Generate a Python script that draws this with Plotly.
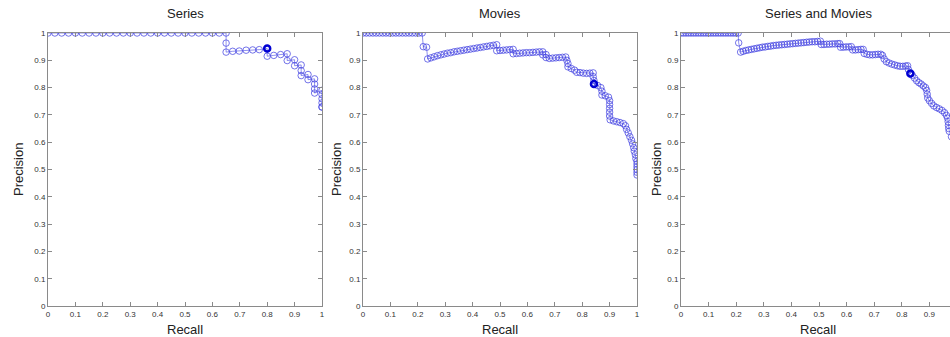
import plotly.graph_objects as go

# ---- data ----
titles = ["Series", "Movies", "Series and Movies"]
tick_vals = [0, 0.1, 0.2, 0.3, 0.4, 0.5, 0.6, 0.7, 0.8, 0.9, 1]
tick_text = ["0", "0.1", "0.2", "0.3", "0.4", "0.5", "0.6", "0.7", "0.8", "0.9", "1"]

series_recall = [0, 0.025, 0.05, 0.075, 0.1, 0.125, 0.15, 0.175, 0.2, 0.225, 0.25, 0.275, 0.3, 0.325,
                 0.35, 0.375, 0.4, 0.425, 0.45, 0.475, 0.5, 0.525, 0.55, 0.575, 0.6, 0.625, 0.65,
                 0.65, 0.65, 0.674, 0.698, 0.723, 0.747, 0.771, 0.8, 0.8, 0.824, 0.849, 0.873, 0.873,
                 0.9, 0.9, 0.924, 0.924, 0.924, 0.949, 0.949, 0.973, 0.973, 0.973, 0.973,
                 1.0, 1.0, 1.0, 1.0, 1.0, 1.0]
series_precision = [1, 1, 1, 1, 1, 1, 1, 1, 1, 1, 1, 1, 1, 1, 1, 1, 1, 1, 1, 1, 1, 1, 1, 1, 1, 1, 1,
                    0.963, 0.93, 0.933, 0.934, 0.937, 0.938, 0.939, 0.943, 0.915, 0.918, 0.921, 0.924, 0.899,
                    0.902, 0.88, 0.883, 0.862, 0.844, 0.848, 0.829, 0.832, 0.813, 0.795, 0.78,
                    0.79, 0.774, 0.759, 0.744, 0.729, 0.729]
series_op = [0.8, 0.943]

movies_recall = [0, 0.012, 0.024, 0.036, 0.048, 0.060, 0.072, 0.084, 0.096, 0.108, 0.120, 0.132, 0.144,
                 0.156, 0.168, 0.180, 0.192, 0.204, 0.216,
                 0.220, 0.232, 0.236,
                 0.248, 0.26, 0.272, 0.284, 0.296, 0.308, 0.32, 0.332, 0.344, 0.356, 0.368, 0.38, 0.392,
                 0.404, 0.416, 0.428, 0.44, 0.452, 0.464, 0.476, 0.488,
                 0.488, 0.5, 0.512, 0.524, 0.536, 0.548,
                 0.548, 0.56, 0.572, 0.584, 0.596, 0.608, 0.62, 0.632, 0.644, 0.656,
                 0.656, 0.668, 0.668, 0.68, 0.692, 0.704, 0.716, 0.728, 0.74,
                 0.744, 0.748, 0.748, 0.76, 0.772, 0.78, 0.792, 0.804, 0.816, 0.828, 0.84,
                 0.84, 0.843, 0.843,
                 0.856, 0.868, 0.872, 0.872, 0.884, 0.896, 0.9, 0.9, 0.9, 0.9, 0.9, 0.902,
                 0.914, 0.926, 0.938, 0.95, 0.958, 0.962, 0.968, 0.974, 0.98, 0.984, 0.988, 0.99,
                 0.994, 0.996, 1.0, 1.0, 1.0, 1.0, 1.0, 1.0]
movies_precision = [1, 1, 1, 1, 1, 1, 1, 1, 1, 1, 1, 1, 1, 1, 1, 1, 1, 1, 1,
                    0.950, 0.948, 0.905,
                    0.909, 0.913, 0.917, 0.92, 0.923, 0.926, 0.928, 0.931, 0.933, 0.935, 0.937, 0.939, 0.941,
                    0.943, 0.945, 0.947, 0.949, 0.951, 0.953, 0.955, 0.957,
                    0.935, 0.936, 0.937, 0.938, 0.939, 0.94,
                    0.924, 0.925, 0.926, 0.927, 0.928, 0.928, 0.929, 0.93, 0.931, 0.931,
                    0.92, 0.921, 0.91, 0.907, 0.908, 0.909, 0.91, 0.911, 0.912,
                    0.9, 0.888, 0.876, 0.87, 0.864, 0.856, 0.855, 0.853, 0.852, 0.853, 0.854,
                    0.84, 0.826, 0.813,
                    0.808, 0.8, 0.787, 0.773, 0.77, 0.765, 0.752, 0.738, 0.724, 0.71, 0.696, 0.682,
                    0.678, 0.675, 0.672, 0.668, 0.66, 0.647, 0.634, 0.62, 0.607, 0.594, 0.58, 0.567,
                    0.554, 0.54, 0.53, 0.52, 0.51, 0.5, 0.49, 0.48]
movies_op = [0.843, 0.813]

both_recall = [0, 0.009, 0.018, 0.027, 0.036, 0.045, 0.054, 0.063, 0.072, 0.081, 0.09, 0.099, 0.108,
               0.117, 0.126, 0.135, 0.144, 0.153, 0.162, 0.171, 0.18, 0.189, 0.198, 0.207,
               0.209, 0.216,
               0.225, 0.235, 0.245, 0.255, 0.265, 0.275, 0.285, 0.295, 0.305, 0.315, 0.325, 0.335, 0.345,
               0.355, 0.365, 0.375, 0.385, 0.395, 0.405, 0.415, 0.425, 0.435, 0.445, 0.455, 0.465,
               0.475, 0.485, 0.495, 0.505,
               0.508, 0.518, 0.528, 0.538, 0.548, 0.558, 0.568, 0.575,
               0.578, 0.588, 0.598, 0.608, 0.617,
               0.622, 0.632, 0.642, 0.652, 0.66,
               0.664, 0.674, 0.684, 0.694, 0.704, 0.714, 0.724, 0.73,
               0.736, 0.744, 0.754, 0.764, 0.774, 0.784, 0.794, 0.804, 0.814, 0.821,
               0.824, 0.831, 0.838, 0.846, 0.854, 0.862, 0.87, 0.878, 0.886, 0.89, 0.892, 0.894,
               0.9, 0.908, 0.916, 0.926, 0.936, 0.946, 0.955, 0.962, 0.966, 0.968, 0.969, 0.97,
               0.972, 0.98, 0.99, 1.0]
both_precision = [1, 1, 1, 1, 1, 1, 1, 1, 1, 1, 1, 1, 1, 1, 1, 1, 1, 1, 1, 1, 1, 1, 1, 1,
                  0.964, 0.93,
                  0.933, 0.936, 0.938, 0.94, 0.942, 0.944, 0.946, 0.948, 0.949, 0.951, 0.952, 0.954, 0.955,
                  0.956, 0.957, 0.958, 0.959, 0.96, 0.961, 0.962, 0.963, 0.964, 0.965, 0.966, 0.967,
                  0.968, 0.968, 0.969, 0.97,
                  0.958, 0.958, 0.959, 0.959, 0.96, 0.96, 0.961, 0.961,
                  0.948, 0.948, 0.949, 0.949, 0.95,
                  0.938, 0.938, 0.939, 0.94, 0.94,
                  0.925, 0.922, 0.92, 0.92, 0.921, 0.922, 0.922, 0.918,
                  0.905, 0.895, 0.89, 0.886, 0.883, 0.88, 0.878, 0.878, 0.879, 0.88,
                  0.866, 0.852, 0.845, 0.835, 0.825, 0.818, 0.813, 0.806, 0.8, 0.79, 0.776, 0.762,
                  0.752, 0.742, 0.733, 0.727, 0.722, 0.716, 0.708, 0.698, 0.688, 0.675, 0.662, 0.65,
                  0.64, 0.62, 0.58, 0.55]
both_op = [0.831, 0.852]

curves = [(series_recall, series_precision, series_op),
          (movies_recall, movies_precision, movies_op),
          (both_recall, both_precision, both_op)]

# ---- layout geometry ----
W, H = 950, 337
x_domains = [[48 / W, 322 / W], [363 / W, 637 / W], [681 / W, 1.0]]
x_ranges = [[0, 1], [0, 1], [0, (W - 681) / 276]]
y_domain = [(H - 306) / H, (H - 33) / H]
centers = [185, 500, 818]
prec_x = [18, 336, 656]

line_col = "rgba(70,70,225,0.75)"
fig = go.Figure()
for i, (rx, py, op) in enumerate(curves):
    xa = "x" if i == 0 else f"x{i+1}"
    ya = "y" if i == 0 else f"y{i+1}"
    fig.add_trace(go.Scatter(
        x=rx, y=py, xaxis=xa, yaxis=ya, mode="lines+markers",
        line=dict(color=line_col, width=0.8),
        marker=dict(symbol="circle-open", size=6.5, color=line_col, line=dict(width=1, color=line_col)),
        showlegend=False, hoverinfo="skip"))
    fig.add_trace(go.Scatter(
        x=[op[0]], y=[op[1]], xaxis=xa, yaxis=ya, mode="markers",
        marker=dict(symbol="circle-open", size=6, color="rgb(0,0,210)",
                    line=dict(width=2.5, color="rgb(0,0,210)")),
        showlegend=False, hoverinfo="skip"))

axis_common = dict(showline=True, linecolor="#8a8a8a", linewidth=1, ticks="inside", ticklen=4,
                   tickcolor="#8a8a8a", showgrid=False, zeroline=False, automargin=False,
                   tickfont=dict(family="Liberation Sans, Arial", size=8, color="#333333"),
                   tickvals=tick_vals, ticktext=tick_text)

layout = dict(width=W, height=H, margin=dict(l=0, r=0, t=0, b=0),
              plot_bgcolor="white", paper_bgcolor="white", showlegend=False)
for i in range(3):
    sx = "" if i == 0 else str(i + 1)
    layout[f"xaxis{sx}"] = dict(axis_common, domain=x_domains[i], range=x_ranges[i],
                                anchor=f"y{sx}", mirror="ticks")
    layout[f"yaxis{sx}"] = dict(axis_common, domain=y_domain, range=[0, 1],
                                anchor=f"x{sx}", mirror=("ticks" if i < 2 else False))
fig.update_layout(**layout)

ann = []
font = dict(family="Liberation Sans, Arial", size=13, color="#222222")
for i in range(3):
    ann.append(dict(text=titles[i], x=centers[i] / W, y=(H - 14) / H, xref="paper", yref="paper",
                    xanchor="center", yanchor="middle", showarrow=False, font=font))
    ann.append(dict(text="Recall", x=centers[i] / W, y=(H - 329) / H, xref="paper", yref="paper",
                    xanchor="center", yanchor="middle", showarrow=False, font=font))
    ann.append(dict(text="Precision", x=prec_x[i] / W, y=(H - 170) / H, xref="paper", yref="paper",
                    xanchor="center", yanchor="middle", showarrow=False, textangle=-90, font=font))
fig.update_layout(annotations=ann)

fig.write_html("out.html", config={"displayModeBar": False},
               post_script="document.body.style.margin='0';document.body.style.padding='0';")
